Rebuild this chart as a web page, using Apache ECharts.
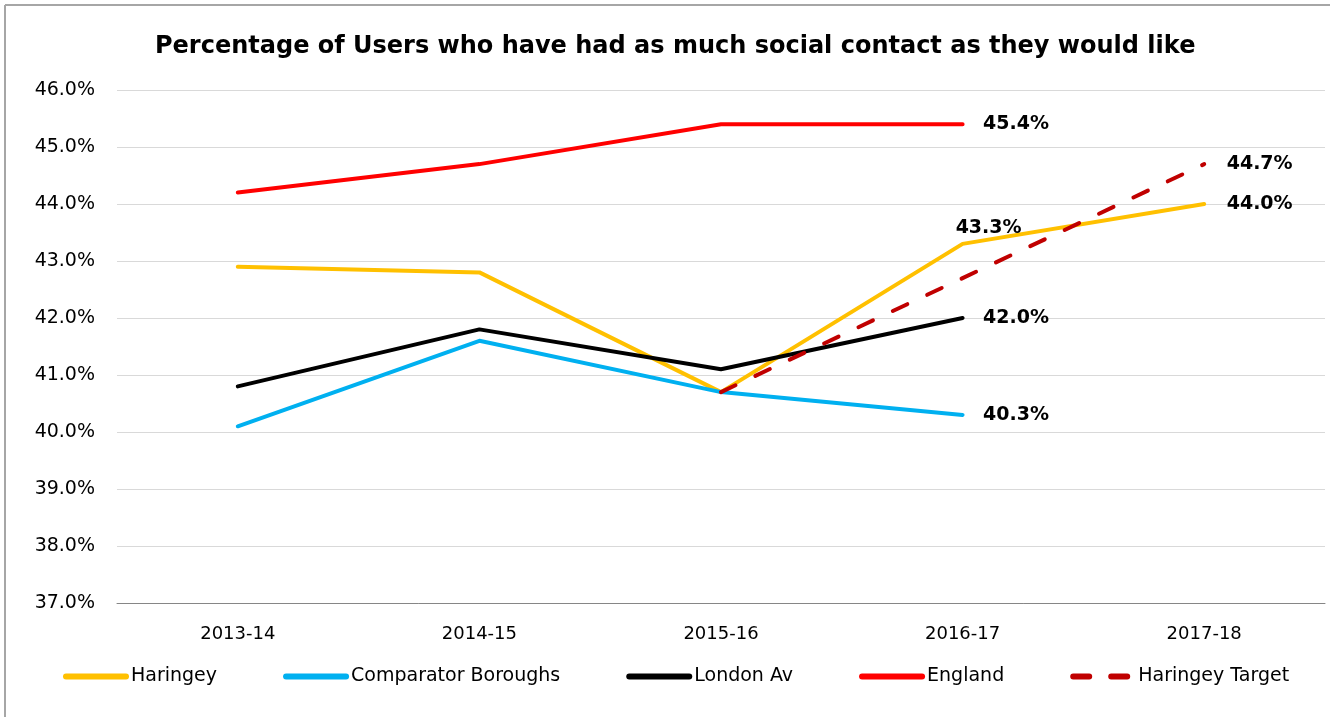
<!DOCTYPE html>
<html>
<head>
<meta charset="utf-8">
<script src="https://cdn.jsdelivr.net/npm/echarts@6/dist/echarts.min.js"></script>
<style>html,body{margin:0;padding:0;background:#fff}#c{width:1330px;height:717px}</style>
</head>
<body>
<div id="c"></div>
<script>
const categories = ['2013-14','2014-15','2015-16','2016-17','2017-18'];
const haringey = [42.9, 42.8, 40.7, 43.3, 44.0];
const comparator = [40.1, 41.6, 40.7, 40.3, null];
const london = [40.8, 41.8, 41.1, 42.0, null];
const england = [44.2, 44.7, 45.4, 45.4, null];
const target = [null, null, 40.7, 42.7, 44.7];
const yTicks = {min: 37, max: 46, interval: 1};

const FONT = '"DejaVu Sans", sans-serif';
const labelStyle = {show: true, fontFamily: FONT, fontWeight: 'bold', fontSize: 19, color: '#000',
  formatter: p => p.value.toFixed(1) + '%'};

function withLabels(arr, specs) {
  return arr.map((v, i) => {
    if (specs[i]) return {value: v, label: Object.assign({}, labelStyle, specs[i])};
    return v;
  });
}

function lineSeries(name, data, color, extra) {
  return Object.assign({
    name: name, type: 'line', data: data,
    symbol: 'circle', symbolSize: 1, showSymbol: true,
    lineStyle: {color: color, width: 4, cap: 'round', join: 'round'},
    itemStyle: {color: color},
    label: {show: false}
  }, extra || {});
}

const chart = echarts.init(document.getElementById('c'));
chart.setOption({
  animation: false,
  backgroundColor: '#fff',
  title: {text: 'Percentage of Users who have had as much social contact as they would like',
    left: 150, top: 30,
    textStyle: {fontFamily: FONT, fontWeight: 'bold', fontSize: 24, color: '#000'}},
  grid: {left: 117, right: 5, top: 90, bottom: 114},
  legend: {top: 662, left: 58, itemWidth: 60, itemHeight: 8, itemGap: 66,
    itemStyle: {opacity: 0},
    lineStyle: {width: 6, cap: 'round'},
    textStyle: {fontFamily: FONT, fontSize: 19, color: '#000'},
    data: ['Haringey','Comparator Boroughs','London Av','England','Haringey Target']},
  xAxis: {type: 'category', data: categories, boundaryGap: true,
    axisLine: {lineStyle: {color: '#868686', width: 1}}, axisTick: {show: false},
    axisLabel: {fontFamily: FONT, fontSize: 18, color: '#000', margin: 22}},
  yAxis: {type: 'value', min: yTicks.min, max: yTicks.max, interval: yTicks.interval,
    axisLine: {show: false}, axisTick: {show: false},
    splitLine: {lineStyle: {color: '#D9D9D9', width: 1}},
    axisLabel: {fontFamily: FONT, fontSize: 19, color: '#000', margin: 22,
      formatter: v => v.toFixed(1) + '%'}},
  series: [
    lineSeries('Haringey', withLabels(haringey, {3: {position: 'top', distance: 6, offset: [26, 0]}, 4: {position: 'right', distance: 22}}), '#FFC000', {z: 3}),
    lineSeries('Comparator Boroughs', withLabels(comparator, {3: {position: 'right', distance: 20}}), '#00B0F0'),
    lineSeries('London Av', withLabels(london, {3: {position: 'right', distance: 20}}), '#000000'),
    lineSeries('England', withLabels(england, {3: {position: 'right', distance: 20}}), '#FF0000'),
    lineSeries('Haringey Target', withLabels(target, {4: {position: 'right', distance: 22}}), '#C00000',
      {z: 4, lineStyle: {color: '#C00000', width: 4, cap: 'round', type: [16, 22]}})
  ],
  graphic: [
    {type: 'line', shape: {x1: 5, y1: 5, x2: 1330, y2: 5}, style: {stroke: '#A6A6A6', lineWidth: 2}, silent: true},
    {type: 'line', shape: {x1: 5, y1: 5, x2: 5, y2: 717}, style: {stroke: '#A6A6A6', lineWidth: 2}, silent: true}
  ]
});
</script>
</body>
</html>
